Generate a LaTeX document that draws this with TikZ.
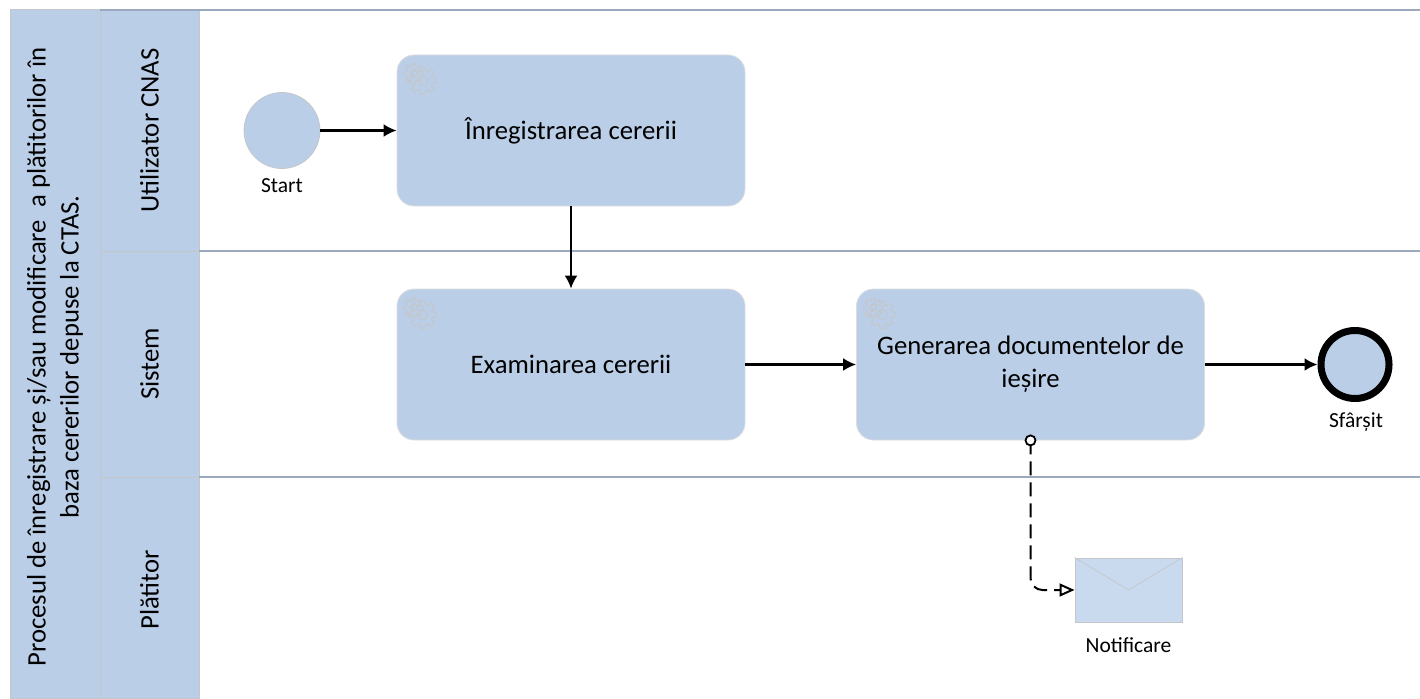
\documentclass[tikz,border=0pt]{standalone}
\usepackage{fontspec}
\setmainfont{Carlito}
\usetikzlibrary{arrows.meta,calc}
\definecolor{bleuBande}{HTML}{BACEE7}
\definecolor{bleuEnv}{HTML}{CADAEE}
\definecolor{grisBord}{HTML}{C4C6CA}
\definecolor{grisLigne}{HTML}{9BA9BE}
\definecolor{grisRouage}{HTML}{C4C6C8}
\newcommand{\Rouage}[3]{%
	\foreach \a in {0,45,...,315} {
		\draw[rouage,shift={(#1)},rotate=\a] (-15:#2*0.74) -- (-9:#2) -- (9:#2) -- (15:#2*0.74) arc[start angle=15,end angle=30,radius=#2*0.74] ;
	}
	\draw[rouage] (#1) circle[radius=#3] ;
}
\begin{document}
\begin{tikzpicture}[x=1pt,y=-1pt]
	\tikzstyle{fleche}=[line width=2.2pt,-{Latex[length=13pt,width=13pt]}]
	\tikzstyle{message}=[line width=2pt,dash pattern=on 14pt off 7pt,rounded corners=12pt,-{Triangle[open,length=15pt,width=13pt]}]
	\tikzstyle{rond}=[draw=black,fill=white,line width=1.8pt,circle,minimum size=10pt,inner sep=0pt]
	\tikzstyle{bande}=[draw=grisBord,fill=bleuBande,line width=1pt,font=\fontsize{26.7}{33}\selectfont,align=center,inner sep=0pt,rotate=90]
	\tikzstyle{ligne}=[draw=grisLigne,line width=1.8pt]
	\tikzstyle{tache}=[draw=grisBord!60!white,fill=bleuBande,line width=0.8pt,rounded corners=17pt,minimum width=348pt,minimum height=151pt,inner sep=0pt,align=center,font=\fontsize{26.7}{33}\selectfont]
	\tikzstyle{debut}=[draw=grisBord,fill=bleuBande,line width=0.8pt,circle,minimum size=76pt,inner sep=0pt]
	\tikzstyle{fin}=[draw=black,fill=bleuBande,line width=7pt,circle,minimum size=68pt,inner sep=0pt]
	\tikzstyle{etiquette}=[font=\fontsize{21.5}{25}\selectfont,inner sep=0pt]
	\tikzstyle{rouage}=[draw=grisRouage,line width=0.9pt]
	\def\LigneA{251}\def\LigneB{477}\def\BordBande{199}
	\useasboundingbox (0,0) rectangle (1420,698) ;
	% couloirs
	\node[bande,minimum width=688pt,minimum height=90pt] (Pool) at (55,354) {Procesul de înregistrare și/sau modificare~ a plătitorilor în\hspace*{6pt}\\baza cererilor depuse la CTAS.\hspace*{6pt}};
	\node[bande,minimum width=241pt,minimum height=99pt] (La) at (149.5,130.5) {Utilizator CNAS};
	\node[bande,minimum width=226pt,minimum height=99pt] (Lb) at (149.5,364) {Sistem};
	\node[bande,minimum width=221pt,minimum height=99pt] (Lc) at (149.5,587.5) {Plătitor\hspace*{5pt}};
	\coordinate (Ha) at (100,10) ; \coordinate (Hb) at (1420,10) ;
	\coordinate (Ma) at (\BordBande,\LigneA) ; \coordinate (Mb) at (1420,\LigneA) ;
	\coordinate (Ba) at (\BordBande,\LigneB) ; \coordinate (Bb) at (1420,\LigneB) ;
	\draw[ligne] (Ha)--(Hb) ;
	\draw[ligne] (Ma)--(Mb) ;
	\draw[ligne] (Ba)--(Bb) ;
	% elements
	\node[debut] (Deb) at (282,130.5) {};
	\node[etiquette] (DebT) at (282,186) {Start};
	\node[tache] (Ta) at (571,130.5) {Înregistrarea cererii};
	\node[tache] (Tb) at (571,364.5) {Examinarea cererii};
	\node[tache] (Tc) at (1030.5,364.5) {Generarea documentelor de\\ieșire};
	\node[fin] (Fin) at (1355,364.5) {};
	\node[etiquette] (FinT) at (1356,422) {Sfârșit};
	\node[draw=grisBord,fill=bleuEnv,line width=1pt,minimum width=107pt,minimum height=64pt,inner sep=0pt] (Env) at (1128.5,590) {};
	\node[etiquette] (EnvT) at (1128.5,645) {Notificare};
	\draw[grisBord,line width=0.7pt] (Env.north west) -- (Env.center) -- (Env.north east) ;
	\foreach \t in {Ta,Tb,Tc} {
		\Rouage{$(\t.north west)+(17,19)$}{10}{3.5}
		\Rouage{$(\t.north west)+(26,26)$}{14}{5}
	}
	% fleches
	\draw[fleche] (Deb)--(Ta) ;
	\draw[fleche] (Ta)--(Tb) ;
	\draw[fleche] (Tb)--(Tc) ;
	\draw[fleche] (Tc)--(Fin) ;
	\draw[message] (Tc.south) |- (Env.west) ;
	\node[rond] (Msg) at (Tc.south) {};
\end{tikzpicture}
\end{document}
